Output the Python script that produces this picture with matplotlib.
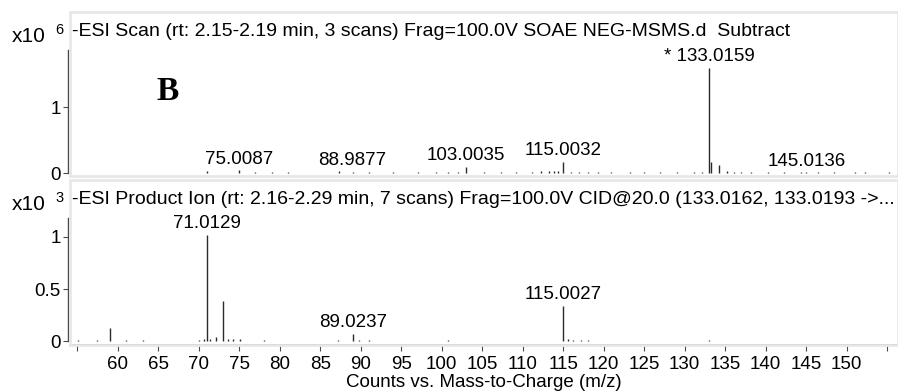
import numpy as np
import matplotlib
matplotlib.use("Agg")
import matplotlib.pyplot as plt
from matplotlib.patches import Rectangle

# ---------------- data ----------------
# Top panel: MS scan (x10^6 counts)
top_mz = [55.2, 58.3, 61.0, 64.5, 68.0, 71.0, 75.0087, 77.0, 79.1, 81.0, 87.3, 88.9877,
          91.0, 94.0, 97.1, 99.3, 100.8, 102.0, 103.0035, 105.2, 107.3, 109.2, 111.1,
          112.3, 113.2, 113.9, 114.4, 115.0032, 116.0, 116.9, 118.1, 119.3, 120.9,
          123.2, 125.0, 126.9, 129.0, 131.2, 132.1, 133.0159, 133.2, 134.2, 135.2,
          136.1, 137.0, 138.2, 140.3, 142.3, 144.4, 145.0136, 146.5, 148.4, 151.0,
          152.2, 155.2]
top_int = [0.006, 0.006, 0.006, 0.006, 0.006, 0.03, 0.04, 0.012, 0.015, 0.01, 0.03, 0.012,
           0.008, 0.008, 0.012, 0.01, 0.01, 0.012, 0.095, 0.012, 0.008, 0.01, 0.01,
           0.025, 0.03, 0.035, 0.03, 0.165, 0.015, 0.012, 0.01, 0.01, 0.01,
           0.008, 0.012, 0.01, 0.01, 0.015, 0.02, 1.59, 0.16, 0.12, 0.03,
           0.015, 0.012, 0.01, 0.01, 0.01, 0.01, 0.01, 0.01, 0.01, 0.01,
           0.01, 0.008]
top_labels = ["75.0087", "88.9877", "103.0035", "115.0032", "* 133.0159", "145.0136"]
top_label_mz = [75.0087, 88.9877, 103.0035, 115.0032, 133.0159, 145.0136]
top_label_int = [0.04, 0.012, 0.095, 0.165, 1.59, 0.01]

# Bottom panel: product ion spectrum (x10^3 counts)
bot_mz = [55.1, 57.5, 59.0, 61.0, 63.1, 70.0, 70.6, 71.0129, 71.4, 72.1, 73.0, 73.6,
          74.2, 75.1, 78.0, 87.2, 89.0237, 89.8, 91.0, 100.8, 115.0027, 115.6, 116.2,
          117.2, 118.1, 133.0]
bot_int = [0.006, 0.006, 0.125, 0.006, 0.006, 0.012, 0.015, 1.02, 0.02, 0.04, 0.385, 0.015,
           0.02, 0.02, 0.008, 0.006, 0.07, 0.008, 0.008, 0.006, 0.34, 0.02, 0.012,
           0.008, 0.008, 0.01]
bot_labels = ["71.0129", "89.0237", "115.0027"]
bot_label_mz = [71.0129, 89.0237, 115.0027]
bot_label_int = [1.02, 0.07, 0.34]

x_ticks = list(range(55, 160, 5))
x_ticklabels = [str(t) if 60 <= t <= 150 else "" for t in x_ticks]

top_title = "-ESI Scan (rt: 2.15-2.19 min, 3 scans) Frag=100.0V SOAE NEG-MSMS.d  Subtract"
bot_title = "-ESI Product Ion (rt: 2.16-2.29 min, 7 scans) Frag=100.0V CID@20.0 (133.0162, 133.0193 ->..."

# ---------------- figure ----------------
W, H = 898, 391
plt.rcParams['font.family'] = ['Liberation Sans', 'DejaVu Sans']
fig = plt.figure(figsize=(W / 100, H / 100), dpi=100)

def fx(px):
    return px / W

def fy(py):
    return 1 - py / H

FS = 13.5
spine_col = '#4a4a4a'
frame_col = '#e8e8e8'
peak_col = '#2a2a2a'
xlim = (54.11, 156.33)

# frames
fig.add_artist(Rectangle((fx(70), fy(176)), fx(828), 164 / H, transform=fig.transFigure,
                         fill=False, ec=frame_col, lw=2))
fig.add_artist(Rectangle((fx(70), fy(345)), fx(828), 165 / H, transform=fig.transFigure,
                         fill=False, ec=frame_col, lw=2))

ax1 = fig.add_axes([fx(70), fy(175), fx(828), 163 / H])
ax2 = fig.add_axes([fx(70), fy(345), fx(828), 165 / H])

for ax in (ax1, ax2):
    ax.set_facecolor('none')
    ax.set_xlim(*xlim)
    for s in ('top', 'right'):
        ax.spines[s].set_visible(False)
    ax.spines['left'].set_color(spine_col)
    ax.spines['left'].set_linewidth(1)
    ax.spines['left'].set_position(('outward', 1.5))
    ax.tick_params(axis='y', direction='out', length=3.6, width=0.8, color=spine_col,
                   labelsize=FS, pad=1.5)

# top panel
ax1.set_ylim(-2 / 66, 161 / 66)
ax1.vlines(top_mz, 0, top_int, color=peak_col, lw=1)
ax1.spines['bottom'].set_visible(False)
ax1.spines['left'].set_bounds(0, 1.86)
ax1.set_yticks([0, 1])
ax1.set_yticklabels(["0", "1"])
ax1.set_xticks([])
for lab, m, v in zip(top_labels, top_label_mz, top_label_int):
    ax1.annotate(lab, (m, v), xytext=(0, 2), textcoords='offset points',
                 ha='center', va='bottom', fontsize=FS)

# bottom panel
ax2.set_ylim(-4 / 104, 161 / 104)
ax2.vlines(bot_mz, 0, bot_int, color=peak_col, lw=1)
ax2.spines['left'].set_bounds(0, 1.18)
ax2.spines['bottom'].set_color(spine_col)
ax2.spines['bottom'].set_linewidth(1.2)
ax2.set_yticks([0, 0.5, 1])
ax2.set_yticklabels(["0", "0.5", "1"])
ax2.set_xticks(x_ticks)
ax2.set_xticklabels(x_ticklabels)
ax2.tick_params(axis='x', direction='out', length=4, width=0.8, color=spine_col,
                labelsize=FS, pad=4)
ax2.set_xlabel("Counts vs. Mass-to-Charge (m/z)", fontsize=FS, labelpad=0.5)
for lab, m, v in zip(bot_labels, bot_label_mz, bot_label_int):
    ax2.annotate(lab, (m, v), xytext=(0, 2), textcoords='offset points',
                 ha='center', va='bottom', fontsize=FS)

# titles
fig.text(fx(72), fy(31), top_title, fontsize=14, ha='left', va='center')
fig.text(fx(72), fy(199), bot_title, fontsize=14, ha='left', va='center')

# scale labels
fig.text(fx(12), fy(36), "x10", fontsize=15, ha='left', va='center')
fig.text(fx(55), fy(30), "6", fontsize=10.5, ha='left', va='center')
fig.text(fx(12), fy(204), "x10", fontsize=15, ha='left', va='center')
fig.text(fx(55), fy(198), "3", fontsize=10.5, ha='left', va='center')

# panel letter
fig.text(fx(168), fy(92), "B", fontsize=24, fontweight='bold',
         family=['Liberation Serif', 'DejaVu Serif'], ha='center', va='center')

fig.savefig("out.png", dpi=100)
